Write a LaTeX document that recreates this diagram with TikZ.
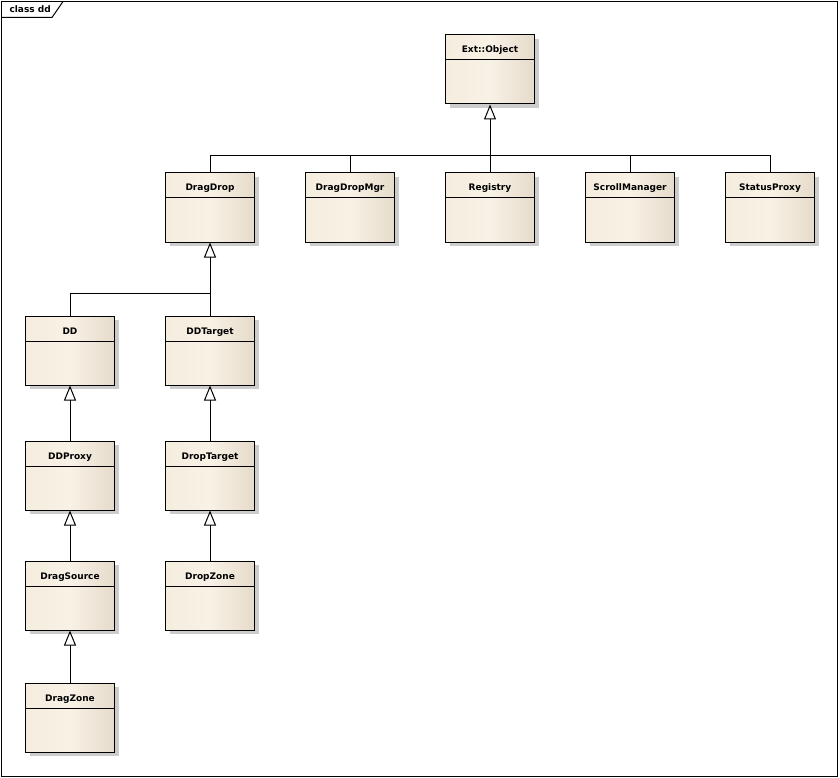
\documentclass[tikz,border=0pt]{standalone}
\usepackage{fontspec}
\setmainfont{DejaVu Sans}
\usetikzlibrary{shapes,shadows,arrows.meta}

\definecolor{clsleft}{RGB}{245,237,222}
\definecolor{clsmid}{RGB}{248,241,229}
\definecolor{clsright}{RGB}{229,219,202}

\begin{document}
\begin{tikzpicture}[x=1pt,y=-1pt]
    \tikzstyle{umlclass}=[rectangle,draw,line width=1pt,minimum width=89pt,inner sep=0pt,
      text height=18pt,text depth=51pt,font=\bfseries\fontsize{9}{11}\selectfont,
      left color=clsleft,right color=clsright,middle color=clsmid,
      drop shadow={shadow xshift=4pt,shadow yshift=-4pt,fill=black!20,opacity=1},
      path picture={\draw[line width=1pt] ([yshift=-25pt]path picture bounding box.north west)
        -- ([yshift=-25pt]path picture bounding box.north east);}]
    \tikzstyle{line}=[draw,line width=1pt]
    \tikzstyle{gen}=[line,-{Triangle[width=12pt,length=15pt,fill=white]}]
    \useasboundingbox (0,0) rectangle (840,778);
    % frame
    \draw[line] (1.5,1.5) rectangle (837.5,776.5);
    \draw[line] (1.5,17.5) -- (52,17.5) -- (63,1.5);
    \node[anchor=base west,font=\bfseries\fontsize{9}{11}\selectfont] (title) at (6,13) {class dd};
    % classes
    \node[umlclass] (extobject) at (490,69.5) {Ext::Object};
    \node[umlclass] (dragdrop) at (210,207.5) {DragDrop};
    \node[umlclass] (dragdropmgr) at (350,207.5) {DragDropMgr};
    \node[umlclass] (registry) at (490,207.5) {Registry};
    \node[umlclass] (scrollmanager) at (630,207.5) {ScrollManager};
    \node[umlclass] (statusproxy) at (770,207.5) {StatusProxy};
    \node[umlclass] (dd) at (70,350.5) {DD};
    \node[umlclass] (ddtarget) at (210,350.5) {DDTarget};
    \node[umlclass] (ddproxy) at (70,475.5) {DDProxy};
    \node[umlclass] (droptarget) at (210,475.5) {DropTarget};
    \node[umlclass] (dragsource) at (70,595.5) {DragSource};
    \node[umlclass] (dropzone) at (210,595.5) {DropZone};
    \node[umlclass] (dragzone) at (70,717.5) {DragZone};
    % generalizations
    \coordinate (bus1) at (490,155.5);
    \draw[gen] (bus1) -- (extobject.south);
    \draw[line] (dragdrop.north) |- (statusproxy.north |- bus1) -- (statusproxy.north);
    \foreach \c in {dragdropmgr,registry,scrollmanager}
      \draw[line] (\c.north) -- (\c.north |- bus1);
    \coordinate (bus2) at (210,293.5);
    \draw[gen] (bus2) -- (dragdrop.south);
    \draw[line] (dd.north) |- (bus2) -- (ddtarget.north);
    \draw[gen] (ddproxy.north) -- (dd.south);
    \draw[gen] (droptarget.north) -- (ddtarget.south);
    \draw[gen] (dragsource.north) -- (ddproxy.south);
    \draw[gen] (dropzone.north) -- (droptarget.south);
    \draw[gen] (dragzone.north) -- (dragsource.south);
\end{tikzpicture}
\end{document}
